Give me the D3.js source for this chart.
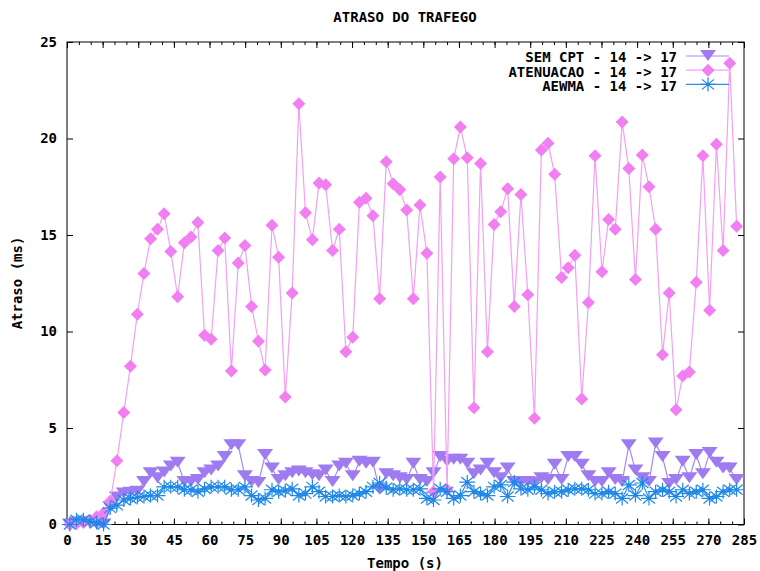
<!DOCTYPE html>
<html>
<head>
<meta charset="utf-8">
<script src="https://cdn.jsdelivr.net/npm/d3@7"></script>
<style>
  body { margin: 0; background: #fff; }
  text { font-family: "DejaVu Sans Mono", monospace; font-weight: bold; font-size: 14px; fill: #000; }
</style>
</head>
<body>
<div id="chart"></div>
<script>
// sample instants (s)
var tempo = [1.2, 4.0, 6.9, 9.7, 12.5, 15.4, 18.2, 21.0, 23.9, 26.7,
  29.6, 32.4, 35.2, 38.1, 40.9, 43.7, 46.6, 49.4, 52.2, 55.1,
  57.9, 60.7, 63.6, 66.4, 69.2, 72.1, 74.9, 77.7, 80.6, 83.4,
  86.3, 89.1, 91.9, 94.8, 97.6, 100.4, 103.3, 106.1, 108.9, 111.8,
  114.6, 117.4, 120.3, 123.1, 125.9, 128.8, 131.6, 134.4, 137.3, 140.1,
  143.0, 145.8, 148.6, 151.5, 154.3, 157.1, 160.0, 162.8, 165.6, 168.5,
  171.3, 174.1, 177.0, 179.8, 182.6, 185.5, 188.3, 191.1, 194.0, 196.8,
  199.7, 202.5, 205.3, 208.2, 211.0, 213.8, 216.7, 219.5, 222.3, 225.2,
  228.0, 230.8, 233.7, 236.5, 239.3, 242.2, 245.0, 247.8, 250.7, 253.5,
  256.4, 259.2, 262.0, 264.9, 267.7, 270.5, 273.4, 276.2, 279.0, 281.9];

var semCpt = [0, 0.1, 0.1, 0.05, 0, 0, 0.9, 1.4, 1.6, 1.65,
  1.7, 2.2, 2.65, 2.4, 2.7, 3.0, 3.2, 2.2, 2.2, 2.3,
  2.65, 2.8, 3.0, 3.5, 4.1, 4.1, 2.5, 2.2, 2.15, 3.6,
  2.9, 2.3, 2.5, 2.65, 2.75, 2.65, 2.55, 2.5, 2.8, 2.2,
  3.0, 3.15, 2.5, 3.25, 3.15, 3.2, 1.8, 2.6, 2.5, 2.4,
  2.3, 3.15, 2.3, 2.2, 2.65, 3.5, 3.25, 3.35, 3.35, 3.15,
  2.6, 2.8, 3.15, 2.65, 2.4, 2.9, 2.2, 2.15, 2.2, 2.15,
  2.4, 2.3, 3.1, 2.3, 3.5, 3.5, 3.1, 2.5, 2.2, 2.2,
  2.65, 2.3, 2.2, 4.1, 2.8, 2.4, 2.2, 4.2, 3.5, 2.1,
  2.3, 3.25, 2.4, 3.6, 2.6, 3.7, 3.2, 2.9, 2.9, 2.3];

var atenuacao = [0, 0.05, 0.1, 0.2, 0.4, 0.6, 1.2, 3.3, 5.8, 8.2,
  10.9, 13.0, 14.8, 15.3, 16.1, 14.15, 11.8, 14.6, 14.9, 15.65,
  9.8, 9.6, 14.2, 14.85, 7.95, 13.55, 14.45, 11.3, 9.5, 8.0,
  15.5, 13.85, 6.6, 12.0, 21.8, 16.15, 14.75, 17.7, 17.6, 14.2,
  15.3, 8.95, 9.7, 16.7, 16.9, 16.0, 11.7, 18.8, 17.65, 17.35,
  16.3, 11.7, 16.55, 14.05, 1.7, 18.0, 1.8, 18.95, 20.6, 19.0,
  6.05, 18.7, 8.95, 15.55, 16.2, 17.4, 11.3, 17.1, 11.9, 5.5,
  19.4, 19.75, 18.15, 12.8, 13.3, 13.95, 6.5, 11.5, 19.1, 13.1,
  15.8, 15.3, 20.85, 18.45, 12.7, 19.15, 17.5, 15.3, 8.8, 12.0,
  5.95, 7.7, 7.9, 12.55, 19.1, 11.1, 19.7, 14.2, 23.9, 15.45];

var aewma = [0, 0.25, 0.25, 0.15, 0.1, 0, 0.85, 1.0, 1.27, 1.35,
  1.4, 1.45, 1.5, 1.5, 1.95, 1.95, 1.95, 1.8, 1.8, 1.7,
  1.85, 1.95, 1.95, 1.95, 1.8, 1.8, 1.95, 1.5, 1.27, 1.35,
  1.8, 1.7, 1.75, 1.85, 1.5, 1.6, 1.95, 1.7, 1.45, 1.45,
  1.5, 1.45, 1.5, 1.6, 1.7, 1.95, 2.15, 1.9, 1.8, 1.85,
  1.8, 1.8, 1.85, 1.35, 1.27, 1.85, 1.7, 1.35, 1.5, 2.2,
  1.7, 1.6, 1.5, 1.95, 2.05, 1.45, 2.2, 1.85, 1.8, 1.95,
  1.8, 1.6, 1.7, 1.7, 1.8, 1.85, 1.85, 1.8, 1.6, 1.6,
  1.7, 1.6, 1.35, 2.05, 1.5, 2.15, 1.35, 1.7, 1.8, 1.7,
  1.45, 1.8, 1.6, 1.7, 1.8, 1.35, 1.45, 1.7, 1.8, 1.8];

var xTicks = [0, 15, 30, 45, 60, 75, 90, 105, 120, 135, 150, 165, 180, 195, 210, 225, 240, 255, 270, 285];
var xMinor = d3.range(0, 286, 5);
var yTicks = [0, 5, 10, 15, 20, 25];

var seriesNames = ["SEM CPT - 14 -> 17", "ATENUACAO - 14 -> 17", "AEWMA - 14 -> 17"];

var w = 760, h = 571;
var margin = {top: 42, right: 16, bottom: 46.5, left: 67};
var innerWidth = w - margin.left - margin.right;
var innerHeight = h - margin.top - margin.bottom;

var svg = d3.select("#chart").append("svg")
  .attr("width", w)
  .attr("height", h);

svg.append("rect").attr("width", w).attr("height", h).attr("fill", "white");

var xScale = d3.scaleLinear().domain([0, 285]).range([0, innerWidth]);
var yScale = d3.scaleLinear().domain([0, 25]).range([innerHeight, 0]);

var g = svg.append("g").attr("transform", `translate(${margin.left},${margin.top})`);

// axes, gnuplot style: ticks inside, mirrored
function styleAxis(sel) {
  sel.select(".domain").remove();
  sel.selectAll(".tick line").attr("stroke", "#000").attr("stroke-width", 1);
}
function noLabels(sel) {
  styleAxis(sel);
  sel.selectAll(".tick text").remove();
}

g.append("g").attr("transform", `translate(0,${innerHeight})`)
  .call(d3.axisBottom(xScale).tickValues(xMinor).tickSize(-3))
  .call(noLabels);
g.append("g").call(d3.axisTop(xScale).tickValues(xMinor).tickSize(-3))
  .call(noLabels);

g.append("g").attr("class", "xAxis").attr("transform", `translate(0,${innerHeight})`)
  .call(d3.axisBottom(xScale).tickValues(xTicks).tickSize(-6).tickPadding(13).tickFormat(d3.format("d")))
  .call(styleAxis);
g.append("g").call(d3.axisTop(xScale).tickValues(xTicks).tickSize(-6))
  .call(noLabels);

g.append("g").attr("class", "yAxis")
  .call(d3.axisLeft(yScale).tickValues(yTicks).tickSize(-6).tickPadding(10).tickFormat(d3.format("d")))
  .call(styleAxis);
g.append("g").attr("transform", `translate(${innerWidth},0)`)
  .call(d3.axisRight(yScale).tickValues(yTicks).tickSize(-6))
  .call(noLabels);

g.selectAll(".xAxis text, .yAxis text")
  .attr("fill", "#000")
  .style("font-family", "DejaVu Sans Mono, monospace")
  .style("font-weight", "bold")
  .style("font-size", "14px");
g.selectAll(".xAxis text").attr("dy", "0.5em");

g.append("rect")
  .attr("width", innerWidth).attr("height", innerHeight)
  .attr("fill", "none").attr("stroke", "#000").attr("stroke-width", 1);

// marker shapes
var triPath = "M-8,-6L8,-6L0,5Z";
var diaPath = "M0,-6.5L6.5,0L0,6.5L-6.5,0Z";
var starPath = "M-8,0L8,0M0,-7L0,7M-6,-5L6,5M-6,5L6,-5";

var series = [
  {name: seriesNames[0], values: semCpt, line: "#a58af2", mark: "#9f7bf0", path: triPath, kind: "fill"},
  {name: seriesNames[1], values: atenuacao, line: "#f3a0f3", mark: "#f27ff2", path: diaPath, kind: "fill"},
  {name: seriesNames[2], values: aewma, line: "#2a8ff0", mark: "#1e88e8", path: starPath, kind: "stroke"}
];

var line = d3.line()
  .x(function(d, i) { return xScale(tempo[i]); })
  .y(function(d) { return yScale(d); });

var plot = g.append("g");

series.forEach(function(s) {
  var sg = plot.append("g");
  sg.append("path")
    .datum(s.values)
    .attr("d", line)
    .attr("fill", "none")
    .attr("stroke", s.line)
    .attr("stroke-width", 1.2);
  var marks = sg.selectAll("g.pt")
    .data(s.values)
    .enter().append("g")
    .attr("transform", function(d, i) { return `translate(${xScale(tempo[i])},${yScale(d)})`; });
  if (s.kind == "fill") {
    marks.append("path").attr("d", s.path).attr("fill", s.mark);
  } else {
    marks.append("path").attr("d", s.path).attr("fill", "none").attr("stroke", s.mark).attr("stroke-width", 1.2);
    marks.append("circle").attr("r", 1.8).attr("fill", s.mark);
  }
});

// legend
var legend = g.append("g");
series.forEach(function(s, i) {
  var ly = 15.5 + i * 14.2;
  legend.append("text")
    .attr("x", 610).attr("y", ly)
    .attr("dy", "0.35em")
    .attr("text-anchor", "end")
    .text(s.name);
  legend.append("line")
    .attr("x1", 619).attr("x2", 662)
    .attr("y1", ly - 1.5).attr("y2", ly - 1.5)
    .attr("stroke", s.line).attr("stroke-width", 1.2);
  var mk = legend.append("g").attr("transform", `translate(641,${ly - 1.5})`);
  if (s.kind == "fill") {
    mk.append("path").attr("d", s.path).attr("fill", s.mark);
  } else {
    mk.append("path").attr("d", s.path).attr("fill", "none").attr("stroke", s.mark).attr("stroke-width", 1.2);
    mk.append("circle").attr("r", 1.8).attr("fill", s.mark);
  }
});

// titles
svg.append("text")
  .attr("x", 405).attr("y", 22)
  .attr("text-anchor", "middle")
  .text("ATRASO DO TRAFEGO");

svg.append("text")
  .attr("x", 405).attr("y", 568)
  .attr("text-anchor", "middle")
  .text("Tempo (s)");

svg.append("text")
  .attr("transform", "translate(22,283) rotate(-90)")
  .attr("text-anchor", "middle")
  .text("Atraso (ms)");
</script>
</body>
</html>
